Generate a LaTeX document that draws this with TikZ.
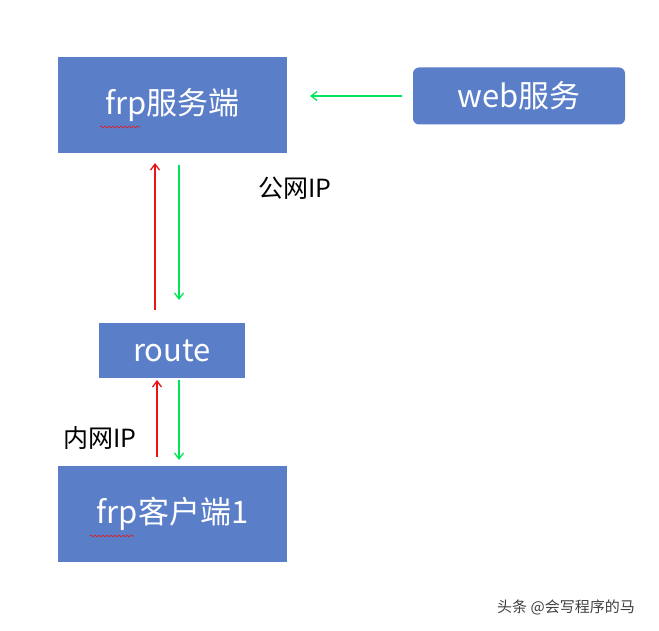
\documentclass[tikz,border=0pt]{standalone}
\usepackage{fontspec}
\setmainfont{Noto Sans CJK SC}
\usetikzlibrary{arrows.meta,decorations.pathmorphing}
\definecolor{boxblue}{RGB}{91,126,201}
\definecolor{arrgreen}{RGB}{0,230,90}
\definecolor{arrred}{RGB}{235,20,20}
\begin{document}
\begin{tikzpicture}[x=1pt,y=-1pt,
  bx/.style={fill=boxblue,draw=none,text=white,font=\fontsize{31}{34}\selectfont,inner sep=0},
  ga/.style={draw=arrgreen,line width=1.3pt,-{Straight Barb[length=6pt,width=9pt]}},
  ra/.style={draw=arrred,line width=1.3pt,-{Straight Barb[length=6pt,width=9pt]}},
  lab/.style={font=\fontsize{25}{28}\selectfont,inner sep=0},
  squig/.style={draw=arrred,line width=0.6pt,decorate,decoration={snake,amplitude=1pt,segment length=4pt}}]
\useasboundingbox (0,0) rectangle (659,631);
\fill[white] (0,0) rectangle (659,631);
\node[bx,minimum width=229,minimum height=96] (srv) at (172.5,105) {frp服务端};
\node[bx,minimum width=212,minimum height=57,rounded corners=6pt] (web) at (519,96) {web服务};
\node[bx,minimum width=146,minimum height=55] (rt) at (172,350.5) {route};
\node[bx,minimum width=229,minimum height=96] (cli) at (172.5,514) {frp客户端1};
\coordinate (w1) at (402,96); \coordinate (w2) at (310,96);
\draw[ga] (w1) -- (w2);
\draw[ra] (155,310) -- (155,163);
\draw[ga] (179,165) -- (179,300);
\draw[ra] (157,457) -- (157,380);
\draw[ga] (179,380) -- (179,460);
\node[lab] (pub) at (295,188) {公网IP};
\node[lab] (lan) at (100,438) {内网IP};
\node[font=\fontsize{15}{17}\selectfont,text=black!75,inner sep=0] (wm) at (566,607) {头条 @会写程序的马};
\draw[squig] (100,127) -- (140,127);
\draw[squig] (90,536) -- (134,536);
\end{tikzpicture}
\end{document}
